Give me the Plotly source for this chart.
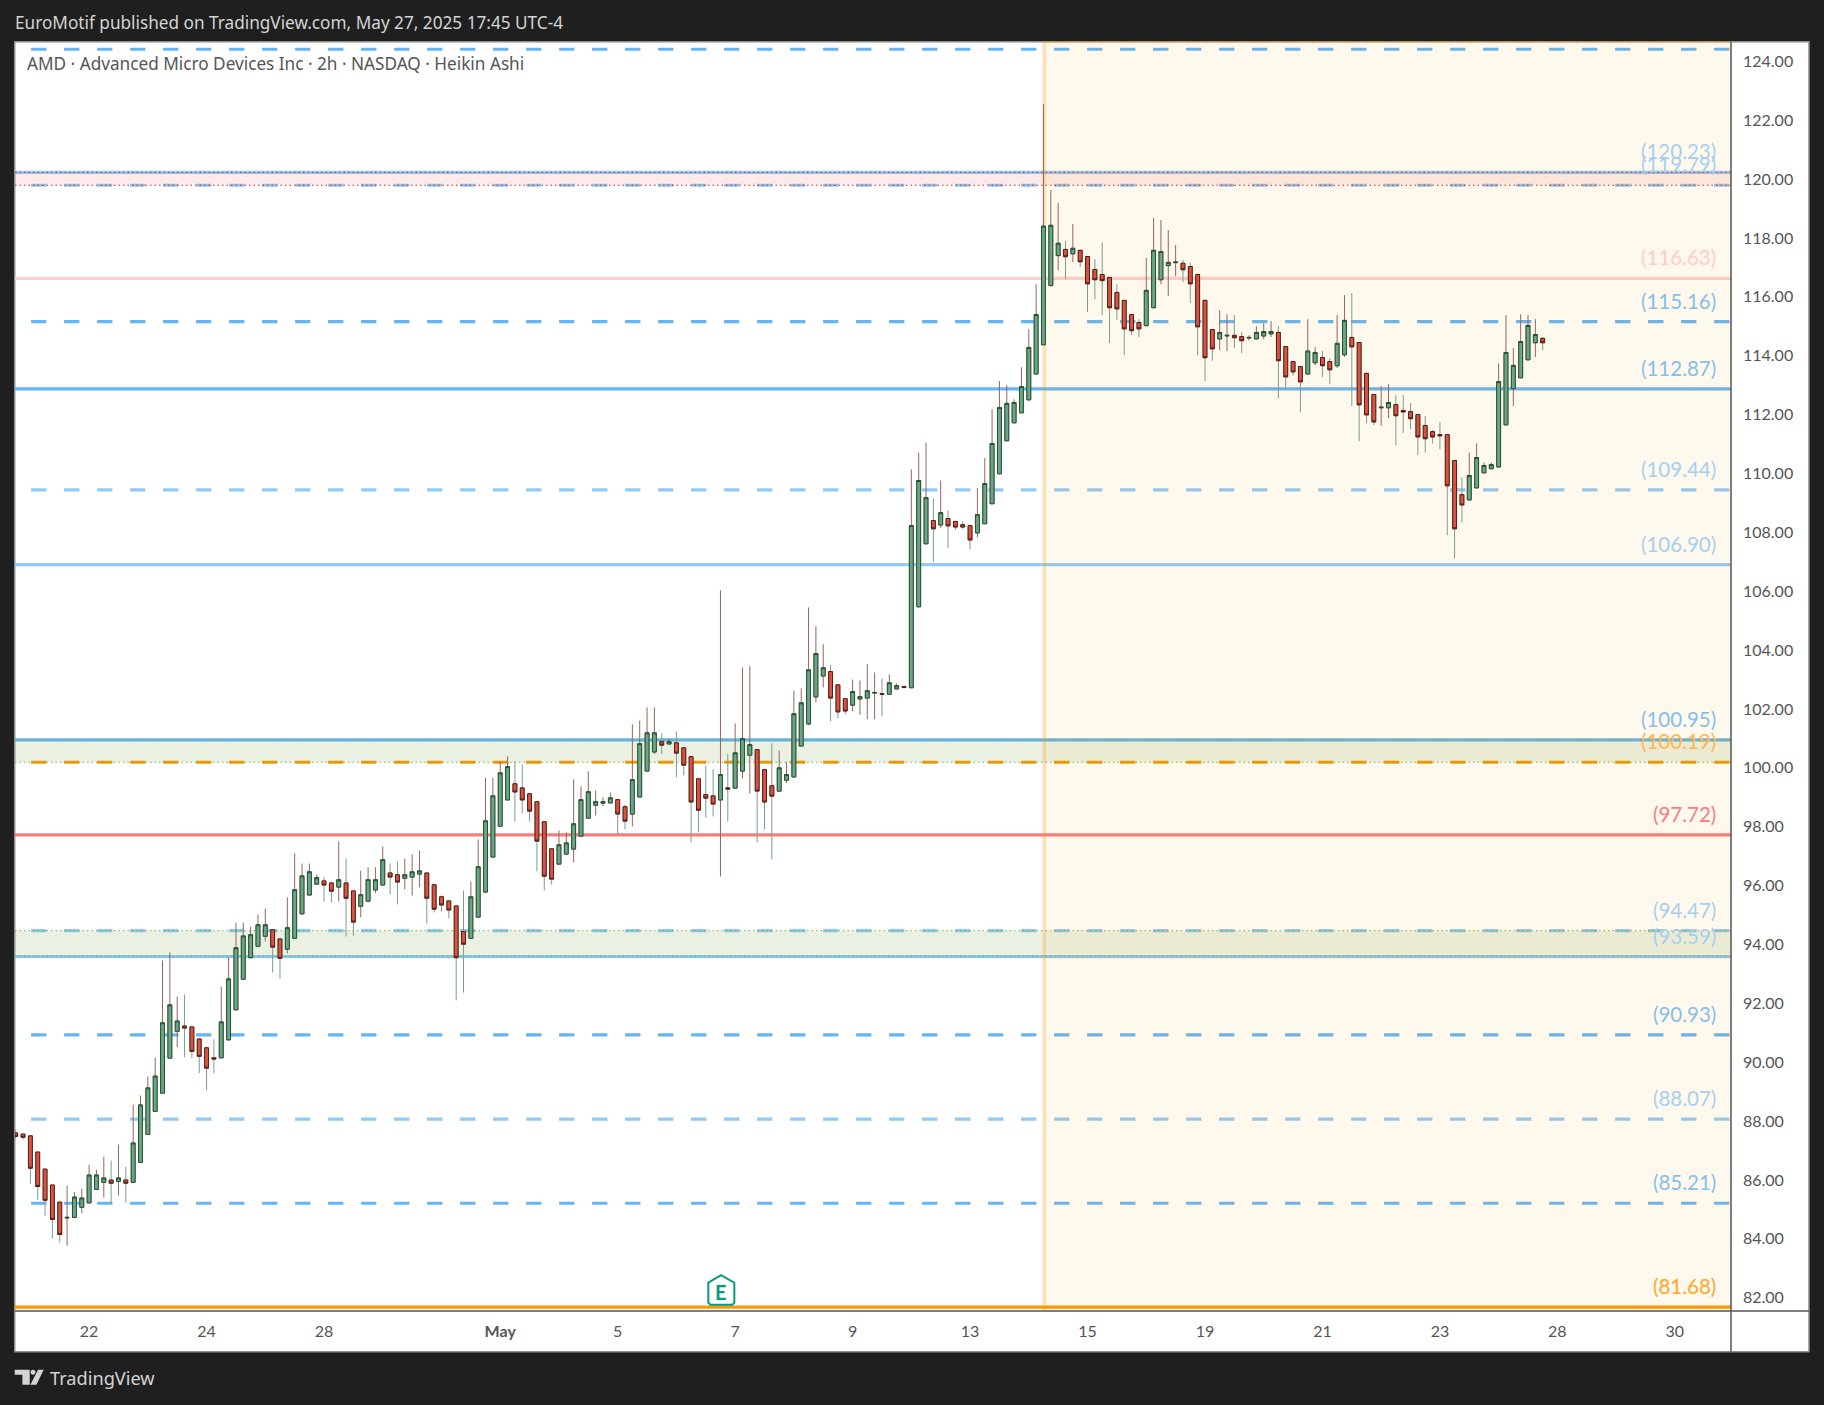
import plotly.graph_objects as go

open_ = [
87.60,87.56,87.50,86.95,86.37,85.83,85.25,84.71,84.73,85.07,
85.22,85.68,85.92,86.00,85.95,86.00,85.92,86.60,87.55,88.33,
88.95,90.14,91.05,91.23,91.20,90.79,90.49,90.15,90.15,90.76,
91.78,92.82,93.55,93.94,94.28,94.50,94.19,93.84,94.21,95.04,
95.68,96.05,96.16,96.09,95.95,96.09,95.82,95.30,95.47,95.85,
96.02,96.43,96.37,96.25,96.29,96.39,96.43,96.03,95.62,95.48,
95.31,94.44,94.21,94.93,95.78,96.97,98.02,98.91,99.46,99.32,
99.12,98.85,98.17,97.25,96.73,97.07,97.24,97.68,98.29,98.73,
98.80,98.81,98.92,98.68,98.43,99.01,99.89,100.54,100.89,100.81,
100.85,100.68,100.38,99.63,99.09,99.05,98.91,99.32,99.31,99.89,
100.43,100.62,99.94,99.39,99.21,99.58,99.69,100.74,101.49,102.41,
103.12,103.27,102.82,102.35,102.13,102.34,102.37,102.54,102.52,102.50,
102.68,102.76,102.72,105.47,107.61,108.40,108.25,108.47,108.37,108.26,
108.23,107.98,108.29,108.97,109.99,111.11,111.72,112.06,112.50,113.38,
114.37,116.38,117.40,117.61,117.46,117.58,117.37,116.93,116.76,116.66,
116.15,115.88,115.40,115.13,115.02,115.63,116.58,117.06,117.16,117.14,
117.03,116.76,115.88,114.89,114.57,114.67,114.69,114.65,114.60,114.57,
114.67,114.74,114.79,114.31,113.80,113.63,113.38,113.76,113.94,113.80,
113.66,114.03,114.62,114.45,113.40,112.68,112.23,112.23,112.34,112.14,
112.10,112.00,111.63,111.42,111.32,111.32,110.44,109.28,109.10,109.51,
110.02,110.16,110.22,111.65,112.88,113.25,113.86,114.44,114.59]

close = [
87.48,87.45,86.40,85.78,85.31,84.66,84.15,84.73,85.42,85.39,
86.17,86.17,86.07,85.89,86.07,85.89,87.26,88.55,89.13,89.53,
91.34,91.95,91.40,91.16,90.37,90.20,89.80,90.11,91.37,92.83,
93.89,94.29,94.33,94.67,94.67,93.91,93.53,94.57,95.86,96.33,
96.47,96.27,96.02,95.81,96.20,95.57,94.76,95.69,96.20,96.20,
96.88,96.29,96.12,96.37,96.47,96.50,95.57,95.20,95.34,95.17,
93.55,94.01,95.62,96.64,98.20,99.05,99.83,100.04,99.18,98.91,
98.53,97.51,96.32,96.22,97.39,97.45,98.10,98.92,99.19,98.85,
98.85,98.98,98.43,98.19,99.60,100.82,101.19,101.19,100.77,100.89,
100.50,100.09,98.84,98.56,98.97,98.77,99.77,99.28,100.51,100.99,
100.79,99.21,98.84,99.04,100.00,99.77,101.84,102.21,103.33,103.88,
103.40,102.37,101.90,101.93,102.59,102.42,102.62,102.56,102.50,102.89,
102.79,102.73,108.23,109.76,109.18,108.12,108.67,108.22,108.18,108.18,
107.74,108.60,109.66,111.02,112.24,112.38,112.41,112.95,114.28,115.40,
118.40,118.43,117.82,117.36,117.65,117.19,116.44,116.58,116.55,115.63,
115.59,114.91,114.85,114.91,116.22,117.58,117.54,117.17,117.18,116.92,
116.44,114.98,113.93,114.23,114.79,114.69,114.61,114.51,114.62,114.79,
114.82,114.82,113.83,113.28,113.45,113.11,114.16,114.11,113.66,113.52,
114.42,115.20,114.30,112.33,111.99,111.75,112.25,112.41,111.96,112.09,
111.86,111.24,111.18,111.24,111.28,109.58,108.12,108.93,109.93,110.54,
110.27,110.30,113.12,114.11,113.67,114.48,115.03,114.72,114.44]

high = [
87.71,87.56,87.50,86.95,86.37,85.83,85.25,85.80,85.60,85.70,
86.52,86.35,86.79,86.66,87.20,86.45,88.56,88.87,89.51,90.16,
93.46,93.73,92.23,92.30,91.20,90.79,90.53,90.77,92.57,93.56,
94.74,94.74,94.61,95.02,95.22,94.50,94.19,95.60,97.09,96.75,
96.75,96.38,96.30,96.13,97.50,96.92,95.82,96.51,96.62,96.62,
97.33,96.75,96.82,96.92,97.06,97.19,96.43,96.03,95.66,95.48,
95.31,95.83,96.14,97.57,99.66,99.66,100.22,100.39,100.22,100.12,
99.12,98.85,98.17,97.25,97.87,97.81,99.61,99.37,99.88,99.23,
99.00,99.16,98.95,98.75,101.48,101.61,102.05,102.05,101.17,101.00,
101.24,100.68,100.38,99.63,100.08,99.95,106.03,100.48,101.51,103.41,
103.45,100.62,99.94,100.83,100.59,100.19,102.63,102.70,105.45,104.81,
104.20,103.50,102.82,102.35,103.00,102.97,103.52,103.24,103.04,103.17,
102.87,102.80,110.14,110.71,111.05,109.15,109.76,108.74,108.37,108.38,
108.23,109.50,110.52,112.18,113.14,113.00,112.52,113.61,114.90,116.43,
122.55,119.63,119.19,117.90,118.47,117.58,117.37,117.28,117.85,116.66,
116.43,115.88,115.40,115.24,117.32,118.68,118.61,118.27,117.76,117.25,
117.17,116.76,115.88,114.89,115.55,115.41,115.38,114.82,114.70,115.00,
115.10,115.18,115.00,114.31,113.80,113.63,115.24,114.29,114.16,113.92,
115.38,116.06,116.13,114.45,113.40,112.68,112.97,113.03,112.66,112.66,
112.39,112.00,111.95,111.47,111.74,111.32,110.44,109.87,110.71,111.02,
110.37,110.37,113.74,115.38,114.26,115.41,115.38,115.24,114.63]

low = [
87.39,87.37,85.87,85.33,84.79,84.01,83.87,83.77,84.73,84.87,
85.22,85.68,85.40,85.20,85.47,85.24,85.92,86.60,87.55,88.33,
88.95,90.14,90.51,90.17,90.14,89.63,89.05,89.63,90.15,90.76,
91.78,92.82,93.55,93.94,94.10,93.05,92.84,93.70,94.21,95.04,
95.68,96.05,95.46,95.43,95.46,94.27,94.30,94.92,95.47,95.74,
96.02,95.70,95.36,95.87,95.66,95.94,94.71,95.09,95.12,94.88,
92.10,92.37,94.21,94.93,95.78,96.97,98.02,98.91,98.18,98.45,
98.18,96.48,95.83,96.04,96.73,97.07,96.79,97.68,98.29,98.38,
98.70,98.81,97.74,97.91,98.01,99.01,99.89,100.47,100.46,100.81,
99.68,99.74,97.47,97.81,98.31,98.35,96.31,98.18,99.31,99.64,
99.13,97.47,97.91,96.89,99.21,99.48,99.69,100.74,101.45,102.22,
102.73,101.58,101.68,101.83,101.92,101.80,101.65,101.65,101.75,102.50,
102.68,102.69,102.72,105.47,107.61,106.99,108.14,107.46,108.08,108.12,
107.43,107.83,108.29,108.97,109.99,111.11,111.72,112.06,112.50,113.38,
114.37,116.38,116.91,116.60,117.18,117.01,115.48,115.92,115.38,114.43,
115.21,114.02,114.70,114.63,115.02,115.63,116.43,116.03,116.70,116.50,
115.79,114.02,113.14,113.83,114.19,114.16,114.26,114.09,114.52,114.57,
114.56,114.63,112.56,112.86,113.32,112.08,113.35,113.68,113.28,113.03,
113.58,113.96,112.29,111.10,111.71,111.64,111.62,111.88,110.96,111.37,
111.50,110.62,110.71,111.02,110.82,107.90,107.12,108.34,109.10,109.51,
110.02,110.16,110.22,111.65,112.29,113.25,113.86,113.95,114.19]

tick_bars = [10, 26, 42, 66, 82, 98, 114, 130, 146, 162, 178, 194, 210, 226]
tick_labels = ["22", "24", "28", "<b>May</b>", "5", "7", "9", "13", "15", "19", "21", "23", "28", "30"]
price_ticks = list(range(82, 125, 2))

level_prices = [124.41, 120.23, 119.79, 116.63, 115.16, 112.87, 109.44, 106.90, 100.95, 100.19, 97.72, 94.47, 93.59, 90.93, 88.07, 85.21, 81.68]
level_colors = ["#64b5f6", "#90caf9", "#90caf9", "#ffcdd2", "#64b5f6", "#64b5f6", "#90caf9", "#90caf9", "#64b5f6", "#ff9800", "#f77c80", "#90caf9", "#90caf9", "#64b5f6", "#90caf9", "#64b5f6", "#ff9800"]
level_dashed = [True, False, True, False, True, False, True, False, False, True, False, True, False, True, True, True, False]
label_colors = [None, "#a6d0f0", "#a6d0f0", "#ffcdc8", "#85bfea", "#85bfea", "#a6d0f0", "#a6d0f0", "#85bfea", "#ffb74d", "#f77c80", "#a6d0f0", "#a6d0f0", "#85bfea", "#a6d0f0", "#85bfea", "#ffa726"]
zones = [(119.79, 120.23, "rgba(229,57,53,0.10)", "#c62828"),
         (100.19, 100.95, "rgba(104,159,56,0.14)", "#7cb342"),
         (93.59, 94.47, "rgba(104,159,56,0.14)", "#7cb342")]

W, H = 1824, 1405
L, R, T, B = 15.3, 1731, 40.8, 1311.3
TEXT_FONT = "Noto Sans"
NUM_FONT = "Lato"
x0_px, bar_px = 16.0, 7.34
xr = [(L - x0_px) / bar_px, (R - x0_px) / bar_px]
yr = [81.55, 124.69]
bars = list(range(len(open_)))
px = lambda p: (p - L) / (R - L)
py = lambda p: 1 - (p - T) / (B - T)

shapes = [dict(type="rect", xref="paper", yref="paper", x0=px(15), x1=px(1809), y0=py(41.5), y1=py(1352),
               fillcolor="white", line=dict(color="#8c8c8c", width=1.5), layer="below")]
for p, c, d in zip(level_prices, level_colors, level_dashed):
    s = dict(type="line", xref="x", yref="y", y0=p, y1=p, x1=xr[1] + 2, layer="below")
    if d:
        s.update(x0=(31.4 - x0_px) / bar_px, line=dict(color=c, width=3.2, dash="15.3px,17.7px"))
    else:
        s.update(x0=xr[0] - 2, line=dict(color=c, width=3.2))
    shapes.append(s)
for lo, hi, fill, dot in zones:
    shapes.append(dict(type="rect", xref="x", yref="y", x0=xr[0] - 2, x1=xr[1] + 2, y0=lo, y1=hi,
                       fillcolor=fill, line=dict(width=0), layer="below"))
    for v in (lo, hi):
        shapes.append(dict(type="line", xref="x", yref="y", x0=xr[0], x1=xr[1], y0=v, y1=v,
                           line=dict(color=dot, width=1, dash="1.5px,3px"), layer="below"))
shapes.append(dict(type="rect", xref="x", yref="y", x0=140.1, x1=xr[1] + 5, y0=yr[0] - 2, y1=yr[1],
                   fillcolor="rgba(255,152,0,0.07)", line=dict(color="rgba(255,152,0,0.27)", width=3.5), layer="below"))
for a, b, c, d in [(R, 41.5, R, 1352), (L, B, 1809, B)]:
    shapes.append(dict(type="line", xref="paper", yref="paper", x0=px(a), y0=py(b), x1=px(c), y1=py(d),
                       line=dict(color="#555555", width=1.5), layer="above"))


def poly(points):
    return "M" + " L".join(f"{px(a):.5f},{py(b):.5f}" for a, b in points) + " Z"


shapes.append(dict(type="path", xref="paper", yref="paper",
                   path=poly([(708.5, 1283), (721.3, 1275.5), (734.5, 1283), (734.5, 1303), (732.5, 1305), (710.5, 1305), (708.5, 1303)]),
                   fillcolor="white", line=dict(color="#089981", width=2), layer="above"))
for pts in ([(15, 1370), (30, 1370), (30, 1385), (22.7, 1385), (22.7, 1375), (15, 1375)],
            [(44, 1370), (36.7, 1385), (30.7, 1385), (38.3, 1370)]):
    shapes.append(dict(type="path", xref="paper", yref="paper", path=poly(pts), fillcolor="#d4d4d4",
                       line=dict(width=0), layer="above"))
shapes.append(dict(type="circle", xref="paper", yref="paper", x0=px(30.8), x1=px(35.8), y0=py(1375), y1=py(1370),
                   fillcolor="#d4d4d4", line=dict(width=0), layer="above"))

annotations = []
for p, c in zip(level_prices, label_colors):
    if c:
        annotations.append(dict(x=(1718 - x0_px) / bar_px, y=p, xref="x", yref="y", text=f"({p:.2f})", showarrow=False,
                                xanchor="right", yanchor="bottom", yshift=7, font=dict(family=NUM_FONT, size=20.5, color=c)))


def page_text(text, x, y, size, color):
    annotations.append(dict(x=px(x), y=py(y), xref="paper", yref="paper", text=text, showarrow=False, xanchor="left",
                            yanchor="middle", font=dict(family=TEXT_FONT, size=size, color=color)))


page_text("EuroMotif published on TradingView.com, May 27, 2025 17:45 UTC-4", 13.5, 22.5, 17.2, "#d4d4d4")
page_text("AMD · Advanced Micro Devices Inc · 2h · NASDAQ · Heikin Ashi", 25.5, 63.5, 17.2, "#555555")
page_text("TradingView", 48, 1378.5, 18.2, "#d4d4d4")
annotations.append(dict(x=px(721.3), y=py(1292), xref="paper", yref="paper", text="<b>E</b>", showarrow=False,
                        xanchor="center", yanchor="middle", font=dict(family=NUM_FONT, size=20, color="#089981")))

fig = go.Figure()
fig.add_trace(go.Candlestick(x=bars, open=open_, high=high, low=low, close=close, whiskerwidth=0, hoverinfo="skip",
                             increasing=dict(line=dict(color="#96655c", width=1), fillcolor="rgba(0,0,0,0)"),
                             decreasing=dict(line=dict(color="#7a9e8c", width=1), fillcolor="rgba(0,0,0,0)")))
body_top = [max(a, b) for a, b in zip(open_, close)]
body_bottom = [min(a, b) for a, b in zip(open_, close)]
fig.add_trace(go.Candlestick(x=bars, open=open_, high=body_top, low=body_bottom, close=close, whiskerwidth=0, hoverinfo="skip",
                             increasing=dict(line=dict(color="#225437", width=1), fillcolor="#6ba583"),
                             decreasing=dict(line=dict(color="#5b1a13", width=1), fillcolor="#d75442")))

fig.update_layout(
    width=W, height=H, autosize=False, showlegend=False,
    paper_bgcolor="#1f1f1f", plot_bgcolor="white",
    margin=dict(l=L, r=W - R, t=T, b=H - B, pad=0),
    boxmode="overlay", boxgap=0.47, boxgroupgap=0,
    shapes=shapes, annotations=annotations,
    xaxis=dict(range=xr, tickvals=tick_bars, ticktext=tick_labels, rangeslider=dict(visible=False), showgrid=False,
               zeroline=False, ticks="", ticklabelstandoff=9, tickfont=dict(family=NUM_FONT, size=16, color="#555555"), showline=False),
    yaxis=dict(range=yr, side="right", tickvals=price_ticks, ticktext=[f"{v:.2f}" for v in price_ticks], showgrid=False,
               zeroline=False, ticks="", ticklabelstandoff=11, tickfont=dict(family=NUM_FONT, size=16, color="#555555"), showline=False),
)
fig.write_html("out.html", config=dict(displayModeBar=False), post_script="document.body.style.margin='0';")
